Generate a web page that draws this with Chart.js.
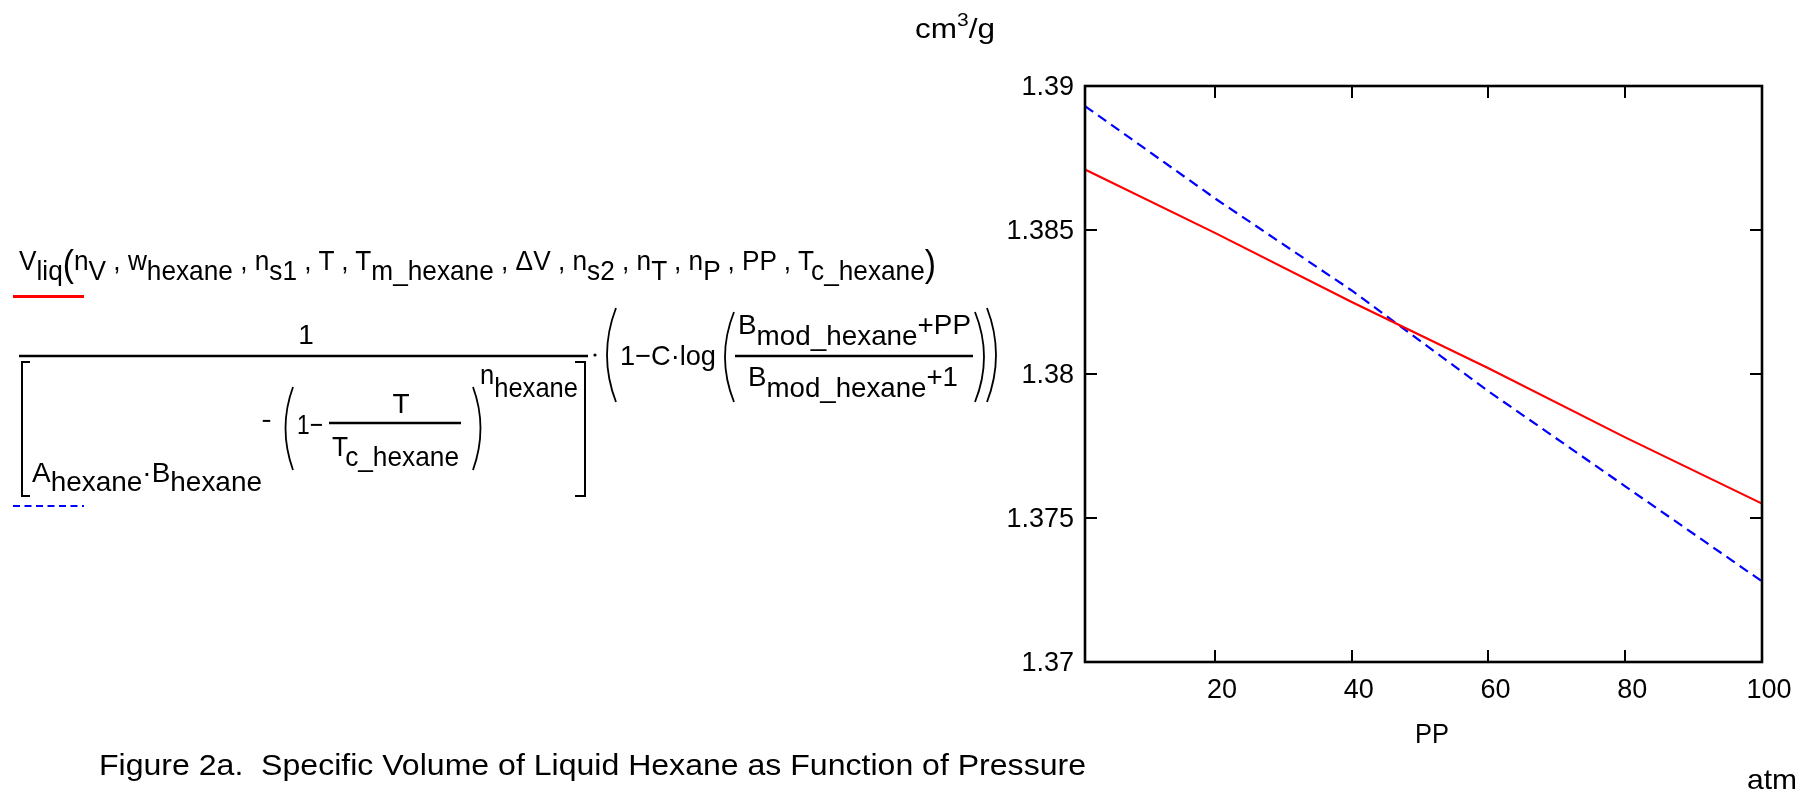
<!DOCTYPE html>
<html><head><meta charset="utf-8">
<script src="https://cdn.jsdelivr.net/npm/chart.js@4.4.1/dist/chart.umd.min.js"></script>
<style>
html,body{margin:0;padding:0;background:#fff;}
#wrap{position:relative;width:1812px;height:791px;overflow:hidden;background:#fff;}
#c{position:absolute;left:0;top:0;}
#ov{position:absolute;left:0;top:0;pointer-events:none;}
#ov text{font-family:"Liberation Sans",Arial,sans-serif;white-space:pre;fill:#000;}
</style></head>
<body>
<div id="wrap">
<canvas id="c" width="1812" height="791"></canvas>
<svg id="ov" width="1812" height="791" xmlns="http://www.w3.org/2000/svg"></svg>
</div>
<script>
// ---- data ----
const pressure = [1, 20, 40, 60, 80, 100];
const vSolid   = [1.3871, 1.3849, 1.3825, 1.3802, 1.3778, 1.3755];
const vDashed  = [1.3893, 1.3861, 1.3829, 1.3794, 1.3761, 1.3728];
const xTicks = [20, 40, 60, 80, 100];
const yTicks = [1.37, 1.375, 1.38, 1.385, 1.39];

const FONT = '"Liberation Sans", Arial, sans-serif';

const boxTicks = {
  id: 'boxTicks',
  afterDatasetsDraw(chart) {
    const {ctx, chartArea: a, scales: {x, y}} = chart;
    ctx.save();
    ctx.strokeStyle = '#000';
    ctx.lineWidth = 2.6;
    ctx.strokeRect(a.left, a.top, a.right - a.left, a.bottom - a.top);
    ctx.lineWidth = 2;
    ctx.beginPath();
    xTicks.forEach(v => {
      const px = Math.round(x.getPixelForValue(v));
      ctx.moveTo(px, a.bottom); ctx.lineTo(px, a.bottom - 12);
      ctx.moveTo(px, a.top); ctx.lineTo(px, a.top + 12);
    });
    yTicks.forEach(v => {
      const py = Math.round(y.getPixelForValue(v));
      ctx.moveTo(a.left, py); ctx.lineTo(a.left + 12, py);
      ctx.moveTo(a.right, py); ctx.lineTo(a.right - 12, py);
    });
    ctx.stroke();
    ctx.restore();
  }
};

new Chart(document.getElementById('c'), {
  type: 'line',
  data: {
    datasets: [
      {
        label: 'Vliq solid',
        data: pressure.map((p, i) => ({x: p, y: vSolid[i]})),
        borderColor: '#ff0000',
        borderWidth: 2.2,
        pointRadius: 0,
        tension: 0,
        fill: false
      },
      {
        label: 'Vliq dashed',
        data: pressure.map((p, i) => ({x: p, y: vDashed[i]})),
        borderColor: '#0000ff',
        borderWidth: 2.2,
        borderDash: [10, 6],
        pointRadius: 0,
        tension: 0,
        fill: false
      }
    ]
  },
  options: {
    responsive: false,
    animation: false,
    devicePixelRatio: 1,
    layout: {padding: {left: 1005, top: 86, right: 50, bottom: 69}},
    plugins: {legend: {display: false}, tooltip: {enabled: false}},
    scales: {
      x: {
        type: 'linear', min: 1, max: 100,
        afterBuildTicks: s => { s.ticks = xTicks.map(v => ({value: v})); },
        afterFit: s => { s.height = 60; },
        grid: {display: false},
        border: {display: false},
        ticks: {color: '#000', font: {family: FONT, size: 27}, padding: 4, labelOffset: 7,
                maxRotation: 0, autoSkip: false}
      },
      y: {
        type: 'linear', min: 1.37, max: 1.39,
        afterBuildTicks: s => { s.ticks = yTicks.map(v => ({value: v})); },
        afterFit: s => { s.width = 80; },
        grid: {display: false},
        border: {display: false},
        ticks: {color: '#000', font: {family: FONT, size: 27}, padding: 3, labelOffset: 2,
                callback: v => String(+Number(v).toFixed(4))}
      }
    }
  },
  plugins: [boxTicks]
});

// ---- text overlay (formula, captions, units) ----
const NS = 'http://www.w3.org/2000/svg';
const svg = document.getElementById('ov');
function txt(x, y, len, segs, opts = {}) {
  const t = document.createElementNS(NS, 'text');
  t.setAttribute('x', x); t.setAttribute('y', y);
  t.setAttribute('font-size', opts.size || 28);
  if (len) { t.setAttribute('textLength', len); t.setAttribute('lengthAdjust', 'spacingAndGlyphs'); }
  if (opts.anchor) t.setAttribute('text-anchor', opts.anchor);
  let cur = 0;
  for (const s of segs) {
    const [str, off = 0, fs] = Array.isArray(s) ? s : [s, 0];
    const ts = document.createElementNS(NS, 'tspan');
    if (off !== cur) { ts.setAttribute('dy', off - cur); cur = off; }
    if (fs) ts.setAttribute('font-size', fs);
    ts.textContent = str;
    t.appendChild(ts);
  }
  svg.appendChild(t);
}
function path(d, color = '#000', w = 2, dash) {
  const p = document.createElementNS(NS, 'path');
  p.setAttribute('d', d); p.setAttribute('stroke', color); p.setAttribute('stroke-width', w);
  p.setAttribute('fill', 'none');
  if (dash) p.setAttribute('stroke-dasharray', dash);
  svg.appendChild(p);
}

// line 1
txt(19, 270, 917, ['V', ['liq', 10], ['(', 6, 36], 'n', ['V', 10], [' , w', 0], ['hexane', 10],
  [' , n', 0], ['s1', 10], [' , T , T', 0], ['m_hexane', 10], [' , ΔV , n', 0], ['s2', 10],
  [' , n', 0], ['T', 10], [' , n', 0], ['P', 10], [' , PP , T', 0], ['c_hexane', 10], [')', 6, 36]]);
path('M13 296.5 H84', '#ff0000', 3);

// big fraction
txt(306, 344, 0, ['1'], {anchor: 'middle'});
path('M19 356 H588', '#000', 2.6);
path('M30 362 H22 V496 H30', '#000', 2);
path('M575 362 H585 V496 H575', '#000', 2);
txt(32, 482, 230, ['A', ['hexane', 9], ['·B', 0], ['hexane', 9]]);
txt(262, 430, 9, ['−']);
path('M293 387 Q278 428 293 470', '#000', 1.8);
txt(297, 434, 26, ['1−']);
txt(401, 413, 0, ['T'], {anchor: 'middle'});
path('M329 423 H461', '#000', 2.4);
txt(332, 456, 127, ['T', ['c_hexane', 10]]);
path('M473 387 Q488 428 473 470', '#000', 1.8);
txt(480, 384, 98, ['n', ['hexane', 13]]);

// multiplication dot + log factor
const dot = document.createElementNS(NS, 'circle');
dot.setAttribute('cx', 595); dot.setAttribute('cy', 355); dot.setAttribute('r', 1.6);
svg.appendChild(dot);
path('M616 308 Q598 355 616 402', '#000', 1.8);
txt(620, 365, 96, ['1−C·log']);
path('M734 312 Q716 357 734 402', '#000', 1.8);
txt(738, 334, 233, ['B', ['mod_hexane', 11], ['+PP', 0]]);
path('M735 356 H973', '#000', 2.4);
txt(748, 386, 210, ['B', ['mod_hexane', 11], ['+1', 0]]);
path('M975 312 Q993 357 975 402', '#000', 1.8);
path('M987 308 Q1005 355 987 402', '#000', 1.8);
path('M13 506 H84', '#0000ff', 2, '7 4.5');

// units, axis title, caption
txt(915, 38, 80, ['cm', ['3', -12, 18], ['/g', 0]], {size: 27});
txt(1415, 743, 34, ['PP'], {size: 28});
txt(1747, 789, 50, ['atm'], {size: 28});
txt(99, 775, 987, ['Figure 2a.  Specific Volume of Liquid Hexane as Function of Pressure'], {size: 29});
</script>
</body></html>
